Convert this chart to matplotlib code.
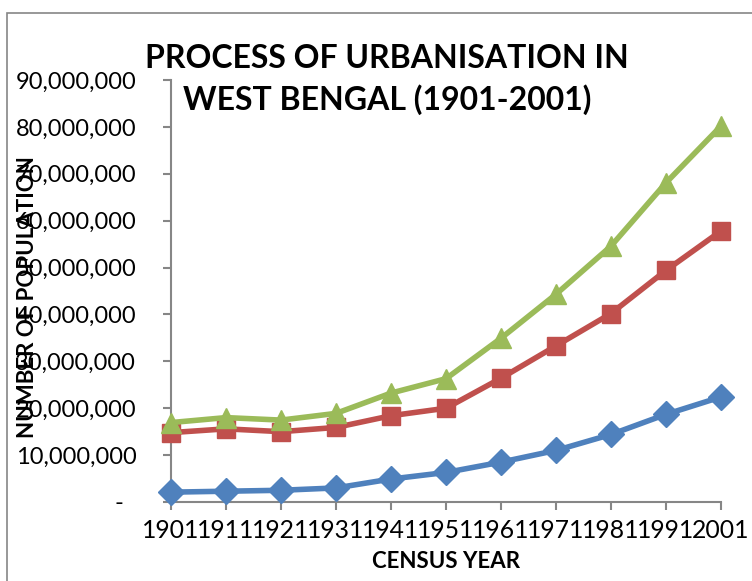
import matplotlib
matplotlib.use("Agg")
import matplotlib.pyplot as plt
from matplotlib.ticker import FuncFormatter
from matplotlib.patches import Rectangle

years = ["1901", "1911", "1921", "1931", "1941", "1951", "1961", "1971", "1981", "1991", "2001"]
urban = [2.1e6, 2.3e6, 2.5e6, 3.0e6, 4.9e6, 6.3e6, 8.5e6, 11.0e6, 14.4e6, 18.7e6, 22.4e6]
rural = [14.8e6, 15.6e6, 15.0e6, 15.9e6, 18.4e6, 20.0e6, 26.4e6, 33.3e6, 40.2e6, 49.4e6, 57.8e6]
total = [16.94e6, 18.0e6, 17.47e6, 18.9e6, 23.23e6, 26.3e6, 34.93e6, 44.31e6, 54.58e6, 68.08e6, 80.18e6]
yticks = [0, 10e6, 20e6, 30e6, 40e6, 50e6, 60e6, 70e6, 80e6, 90e6]

plt.rcParams['font.family'] = ['Lato', 'DejaVu Sans']

W, H = 752, 581
fig = plt.figure(figsize=(W / 100, H / 100), dpi=100)
fig.patches.append(Rectangle((7 / W, -0.1), 1.2, 1 - 13 / H + 0.1, transform=fig.transFigure,
                             fill=False, edgecolor='#868686', linewidth=1.2))

ax = fig.add_axes([171 / W, 1 - 502 / H, 550 / W, 422 / H])
x = list(range(len(years)))
ax.plot(x, urban, color='#4F81BD', lw=4, marker='D', ms=13, clip_on=False, zorder=3)
ax.plot(x, rural, color='#C0504D', lw=4, marker='s', ms=13.5, clip_on=False, zorder=4)
ax.plot(x, total, color='#9BBB59', lw=4, marker='^', ms=15, clip_on=False, zorder=5)

ax.set_xlim(0, len(years) - 1)
ax.set_ylim(0, 90e6)
ax.set_xticks(x)
ax.set_xticklabels(years)
ax.set_yticks(yticks)
ax.yaxis.set_major_formatter(FuncFormatter(lambda v, p: "-  " if v == 0 else f"{int(v):,}"))

for s in ['top', 'right']:
    ax.spines[s].set_visible(False)
for s in ['left', 'bottom']:
    ax.spines[s].set_color('#868686')
    ax.spines[s].set_linewidth(1.5)
ax.tick_params(axis='y', length=6, width=1.5, color='#868686', pad=19, labelsize=17)
ax.tick_params(axis='x', length=6, width=1.5, color='#868686', pad=6, labelsize=17.8)

fig.text(387 / W, 1 - 58 / H, "PROCESS OF URBANISATION IN", ha='center', va='center',
         fontsize=23, fontweight='bold')
fig.text(387 / W, 1 - 100 / H, "WEST BENGAL (1901-2001)", ha='center', va='center',
         fontsize=23, fontweight='bold')
fig.text(28 / W, 1 - 297 / H, "NUMBER OF POPULATION", rotation=90, ha='center', va='center',
         fontsize=16, fontweight='bold')
fig.text(446 / W, 1 - 562 / H, "CENSUS YEAR", ha='center', va='center',
         fontsize=16, fontweight='bold')

fig.savefig("out.png", dpi=100)
